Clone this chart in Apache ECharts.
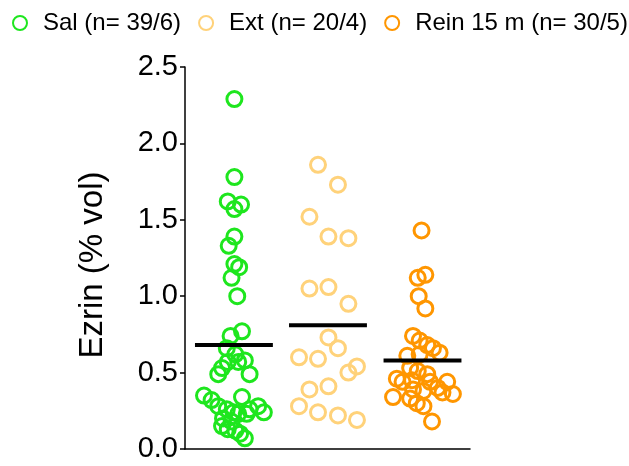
<!DOCTYPE html>
<html>
<head>
<meta charset="utf-8">
<script src="https://cdn.jsdelivr.net/npm/echarts@6/dist/echarts.min.js"></script>
<style>
  html, body { margin: 0; padding: 0; background: #fff; }
  #chart { width: 629px; height: 466px; }
</style>
</head>
<body>
<div id="chart"></div>
<script>
'use strict';
// groups + colours
let groupNames = ['Sal (n= 39/6)', 'Ext (n= 20/4)', 'Rein 15 m (n= 30/5)'];
let colorList = ['#1ee61e', '#ffd27a', '#ff9600'];
let yTicks = ['0.0', '0.5', '1.0', '1.5', '2.0', '2.5'];

// individual points: y = Ezrin (% vol), x = jittered position in the group slot
let salY = [2.29, 1.78, 1.62, 1.60, 1.57, 1.39, 1.33, 1.19, 1.21, 1.12, 1.00, 0.77, 0.74, 0.66, 0.62, 0.58, 0.57, 0.57, 0.53, 0.49,
  0.49, 0.35, 0.32, 0.34, 0.28, 0.26, 0.24, 0.26, 0.28, 0.24, 0.23, 0.15, 0.13, 0.12, 0.10, 0.07, 0.20, 0.23, 0.18];
let salX = [0.52, 0.52, 0.45, 0.59, 0.52, 0.52, 0.46, 0.57, 0.52, 0.49, 0.55, 0.60, 0.48, 0.44, 0.53, 0.63, 0.45, 0.56, 0.39, 0.35,
  0.68, 0.20, 0.28, 0.60, 0.35, 0.44, 0.51, 0.68, 0.77, 0.83, 0.56, 0.39, 0.45, 0.53, 0.58, 0.63, 0.40, 0.65, 0.49];

let extY = [1.86, 1.73, 1.52, 1.39, 1.38, 1.05, 1.06, 0.95, 0.73, 0.66, 0.60, 0.59, 0.54, 0.50, 0.39, 0.41, 0.28, 0.24, 0.22, 0.19];
let extX = [1.40, 1.61, 1.31, 1.51, 1.72, 1.31, 1.51, 1.72, 1.51, 1.61, 1.20, 1.40, 1.81, 1.72, 1.31, 1.51, 1.20, 1.40, 1.61, 1.81];

let reinY = [1.43, 1.14, 1.12, 1.00, 0.92, 0.74, 0.71, 0.68, 0.66, 0.63, 0.61, 0.62, 0.53, 0.51, 0.49, 0.46, 0.44, 0.45, 0.44, 0.44,
  0.40, 0.39, 0.38, 0.36, 0.37, 0.34, 0.33, 0.30, 0.28, 0.18];
let reinX = [2.49, 2.53, 2.45, 2.46, 2.53, 2.40, 2.47, 2.55, 2.61, 2.68, 2.34, 2.47, 2.37, 2.45, 2.55, 2.23, 2.29, 2.39, 2.58, 2.76,
  2.66, 2.40, 2.51, 2.82, 2.71, 2.19, 2.37, 2.44, 2.51, 2.60];

// group means (black bars)
let means = [0.68, 0.81, 0.58];
let centers = [0.515, 1.505, 2.5];
let halfBar = 0.41;

let xs = [salX, extX, reinX];
let ys = [salY, extY, reinY];

let instance = echarts.init(document.getElementById('chart'));

let series = [];
groupNames.forEach((name, i) => {
  series.push({
    name: name,
    type: 'scatter',
    symbol: 'circle',
    symbolSize: 15,
    data: ys[i].map((v, j) => [xs[i][j], v]),
    itemStyle: {
      color: 'rgba(255,255,255,0)',
      borderColor: colorList[i],
      borderWidth: 3,
      opacity: 1
    },
    emphasis: { disabled: true }
  });
});
means.forEach((m, i) => {
  series.push({
    type: 'line',
    symbol: 'none',
    data: [[centers[i] - halfBar, m], [centers[i] + halfBar, m]],
    lineStyle: { color: '#000', width: 4 },
    z: 5,
    silent: true
  });
});

instance.setOption({
  animation: false,
  color: colorList,
  textStyle: { fontFamily: 'Liberation Sans, Arial, sans-serif' },
  legend: {
    data: groupNames,
    left: 12,
    top: 11,
    width: 617,
    padding: 0,
    itemWidth: 36,
    itemHeight: 14,
    itemGap: 17,
    icon: 'circle',
    textStyle: { fontSize: 24, color: '#000' },
    selectedMode: false
  },
  grid: {
    left: 185,
    right: 159,
    top: 67,
    bottom: 17
  },
  xAxis: {
    type: 'value',
    min: 0,
    max: 3,
    axisLine: { show: true, onZero: false, lineStyle: { color: '#000', width: 1.5 } },
    axisTick: { show: false },
    axisLabel: { show: false },
    splitLine: { show: false }
  },
  yAxis: {
    type: 'value',
    min: 0,
    max: 2.5,
    interval: 0.5,
    name: 'Ezrin (% vol)',
    nameLocation: 'middle',
    nameGap: 76,
    nameTextStyle: { fontSize: 33, color: '#000', padding: [0, 14, 0, 0] },
    axisLine: { show: true, lineStyle: { color: '#000', width: 1.5 } },
    axisTick: { show: true, length: 5, lineStyle: { color: '#000', width: 1.5 } },
    axisLabel: {
      fontSize: 29,
      color: '#000',
      margin: 7,
      formatter: (v) => yTicks[Math.round(v / 0.5)]
    },
    splitLine: { show: false }
  },
  series: series
});
window.onresize = () => {
  instance.resize();
};
</script>
</body>
</html>
